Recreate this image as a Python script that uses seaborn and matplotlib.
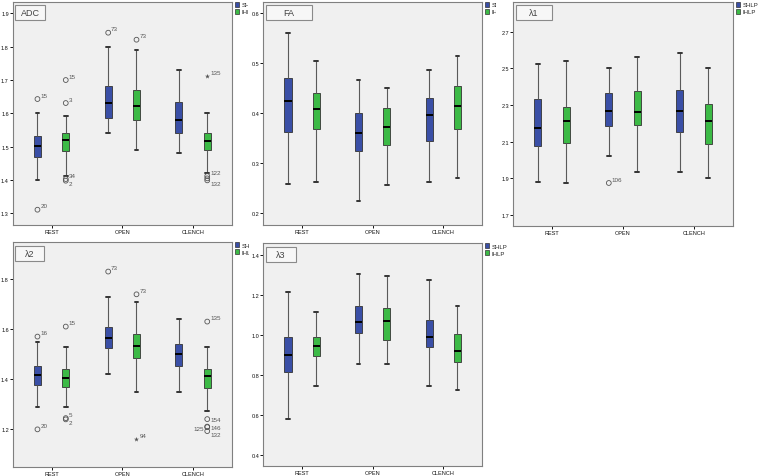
import numpy as np
import pandas as pd
import matplotlib
matplotlib.use("Agg")
import matplotlib.pyplot as plt
import seaborn as sns
from matplotlib.patches import Rectangle, Patch
from matplotlib.transforms import Bbox, TransformedBbox

sns.set_style("white")
plt.rcParams['font.family'] = ['Liberation Sans', 'DejaVu Sans']

conditions = ["REST", "OPEN", "CLENCH"]
groups = ["SHLP", "IHLP"]
group_colors = {"SHLP": "#3A4FA6", "IHLP": "#3CBA46"}

# five-number summaries (whisker low, Q1, median, Q3, whisker high)
# order: REST-SHLP, REST-IHLP, OPEN-SHLP, OPEN-IHLP, CLENCH-SHLP, CLENCH-IHLP
adc_stats = [
    [1.400, 1.470, 1.501, 1.531, 1.600],
    [1.411, 1.486, 1.521, 1.540, 1.591],
    [1.540, 1.586, 1.631, 1.681, 1.800],
    [1.490, 1.580, 1.621, 1.671, 1.791],
    [1.480, 1.540, 1.581, 1.635, 1.731],
    [1.421, 1.490, 1.516, 1.540, 1.600],
]
fa_stats = [
    [0.258, 0.362, 0.425, 0.471, 0.561],
    [0.262, 0.368, 0.408, 0.441, 0.504],
    [0.224, 0.325, 0.361, 0.401, 0.467],
    [0.256, 0.337, 0.372, 0.410, 0.451],
    [0.263, 0.344, 0.396, 0.430, 0.487],
    [0.270, 0.369, 0.414, 0.454, 0.514],
]
l1_stats = [
    [1.882, 2.078, 2.173, 2.333, 2.524],
    [1.873, 2.093, 2.213, 2.291, 2.542],
    [2.024, 2.184, 2.267, 2.364, 2.500],
    [1.933, 2.191, 2.264, 2.376, 2.562],
    [1.933, 2.153, 2.267, 2.384, 2.584],
    [1.902, 2.087, 2.213, 2.305, 2.502],
]
l2_stats = [
    [1.291, 1.376, 1.416, 1.452, 1.549],
    [1.291, 1.371, 1.407, 1.441, 1.531],
    [1.420, 1.524, 1.567, 1.609, 1.731],
    [1.351, 1.485, 1.532, 1.583, 1.711],
    [1.351, 1.452, 1.501, 1.540, 1.640],
    [1.275, 1.365, 1.412, 1.441, 1.531],
]
l3_stats = [
    [0.578, 0.812, 0.898, 0.990, 1.212],
    [0.745, 0.892, 0.945, 0.990, 1.112],
    [0.853, 1.007, 1.063, 1.142, 1.303],
    [0.853, 0.975, 1.070, 1.132, 1.292],
    [0.742, 0.937, 0.990, 1.073, 1.273],
    [0.723, 0.862, 0.920, 1.002, 1.143],
]

# outliers: (condition, group, value, case label, marker)
adc_outliers = [
    ("REST", "SHLP", 1.643, "15", "o"), ("REST", "SHLP", 1.311, "20", "o"),
    ("REST", "IHLP", 1.700, "15", "o"), ("REST", "IHLP", 1.631, "3", "o"),
    ("REST", "IHLP", 1.403, "34", "o"), ("REST", "IHLP", 1.398, "2", "o"),
    ("OPEN", "SHLP", 1.842, "73", "o"), ("OPEN", "IHLP", 1.821, "73", "o"),
    ("CLENCH", "IHLP", 1.711, "135", "*"), ("CLENCH", "IHLP", 1.412, "122", "o"),
    ("CLENCH", "IHLP", 1.405, "", "o"), ("CLENCH", "IHLP", 1.399, "132", "o"),
]
l1_outliers = [("OPEN", "SHLP", 1.875, "106", "o")]
l2_outliers = [
    ("REST", "SHLP", 1.571, "16", "o"), ("REST", "SHLP", 1.200, "20", "o"),
    ("REST", "IHLP", 1.611, "15", "o"), ("REST", "IHLP", 1.245, "5", "o"),
    ("REST", "IHLP", 1.240, "2", "o"),
    ("OPEN", "SHLP", 1.831, "73", "o"), ("OPEN", "IHLP", 1.740, "73", "o"),
    ("OPEN", "IHLP", 1.161, "94", "*"),
    ("CLENCH", "IHLP", 1.631, "135", "o"), ("CLENCH", "IHLP", 1.241, "154", "o"),
    ("CLENCH", "IHLP", 1.211, "125", "o"), ("CLENCH", "IHLP", 1.209, "146", "o"),
    ("CLENCH", "IHLP", 1.193, "132", "o"),
]
# labels placed below-right or left instead of the usual above-right
label_below = {("ADC", "2"), ("ADC", "132"), ("λ2", "2"), ("λ2", "132")}
label_left = {("λ2", "125")}
label_side = {("λ2", "146"), ("λ2", "154")}

W, H = 760, 477
fig = plt.figure(figsize=(W / 100, H / 100), dpi=100)
fig.patch.set_facecolor("white")


def px_rect(l, t, r, b):
    return [l / W, 1 - b / H, (r - l) / W, (b - t) / H]


def five_number_frame(stats):
    rows = []
    keys = [(c, g) for c in conditions for g in groups]
    for (c, g), vals in zip(keys, stats):
        for v in vals:
            rows.append({"condition": c, "group": g, "value": v})
    return pd.DataFrame(rows)


panels = [
    # name, stats, outliers, ylim, yticks, frame px, legend clip x px, title box width
    ("ADC", adc_stats, adc_outliers, (1.266, 1.935), np.arange(1.3, 1.95, 0.1),
     (12.7, 2.7, 232, 225.7), 248, 30),
    ("FA", fa_stats, [], (0.1773, 0.6233), np.arange(0.2, 0.65, 0.1),
     (263.3, 2.7, 482, 225.7), 496, 46),
    ("λ1", l1_stats, l1_outliers, (1.642, 2.864), np.arange(1.7, 2.75, 0.2),
     (513, 2.7, 733, 226.7), 760, 36),
    ("λ2", l2_stats, l2_outliers, (1.0507, 1.948), np.arange(1.2, 1.85, 0.2),
     (12.7, 243.3, 232, 467.7), 249, 29),
    ("λ3", l3_stats, [], (0.345, 1.4583), np.arange(0.4, 1.45, 0.2),
     (263.3, 244, 482, 466.7), 760, 30),
]

offset = {"SHLP": -0.2, "IHLP": 0.2}

for name, stats, outliers, ylim, yticks, frame, clip_x, title_w in panels:
    ax = fig.add_axes(px_rect(*frame))
    ax.set_facecolor("#F0F0F0")
    df = five_number_frame(stats)
    sns.boxplot(data=df, x="condition", y="value", hue="group",
                order=conditions, hue_order=groups, palette=group_colors,
                saturation=1, whis=(0, 100), width=0.8, gap=0.75,
                showfliers=False, linecolor="#333333", linewidth=0.6,
                medianprops={"color": "black", "linewidth": 1.4},
                whiskerprops={"color": "#5A5A5A", "linewidth": 0.8},
                capprops={"color": "#333333", "linewidth": 1.4},
                legend=False, ax=ax)

    for cond, grp, val, lab, mk in outliers:
        x = conditions.index(cond) + offset[grp]
        if mk == "o":
            ax.scatter(x, val, s=12, marker="o", facecolors="none",
                       edgecolors="#555555", linewidths=0.6, zorder=5)
        else:
            ax.scatter(x, val, s=14, marker="*", color="#555555",
                       linewidths=0, zorder=5)
        if not lab:
            continue
        if (name, lab) in label_left:
            xy, ha, va = (-2, -1), "right", "center"
        elif (name, lab) in label_below:
            xy, ha, va = (2, -0.5), "left", "top"
        elif (name, lab) in label_side:
            xy, ha, va = (2, 0), "left", "center"
        else:
            xy, ha, va = (2, 1), "left", "bottom"
        ax.annotate(lab, (x, val), xytext=xy, textcoords="offset points",
                    ha=ha, va=va, fontsize=4.5, color="#555555")

    ax.set_xlim(-0.55, 2.55)
    ax.set_ylim(*ylim)
    ax.set_yticks(yticks)
    ax.set_yticklabels([f"{t:.1f}" for t in yticks])
    ax.set_xlabel("")
    ax.set_ylabel("")
    ax.tick_params(axis="both", which="major", length=2, width=0.7,
                   pad=0.8, labelsize=4, colors="#111111",
                   left=True, bottom=True)
    for s in ax.spines.values():
        s.set_color("#808080")
        s.set_linewidth(0.8)

    # title box in the upper left corner of the plot area
    fw = frame[2] - frame[0]
    fh = frame[3] - frame[1]
    ax.add_patch(Rectangle((2.5 / fw, 1 - 18.5 / fh), title_w / fw, 15 / fh,
                           transform=ax.transAxes, facecolor="#F7F7F7",
                           edgecolor="#8A8A8A", linewidth=0.8, zorder=6))
    ax.text((2.5 + title_w / 2) / fw, 1 - 11 / fh, name, transform=ax.transAxes,
            ha="center", va="center", fontsize=6.5, color="#444444", zorder=7)

    handles = [Patch(facecolor=group_colors[g], edgecolor="#333333",
                     linewidth=0.5, label=g) for g in groups]
    leg = ax.legend(handles=handles, loc="upper left", bbox_to_anchor=(1.012, 1.0),
                    frameon=False, fontsize=4.3, handlelength=0.8, handleheight=0.9,
                    handletextpad=0.3, labelspacing=0.25, borderpad=0,
                    borderaxespad=0)
    # the next panel covers the end of the legend labels
    clip = TransformedBbox(Bbox([[0, 0], [clip_x / W, 1]]), fig.transFigure)
    for t in leg.get_texts():
        t.set_clip_box(clip)
        t.set_clip_on(True)

fig.savefig("out.png", dpi=100, facecolor="white")
